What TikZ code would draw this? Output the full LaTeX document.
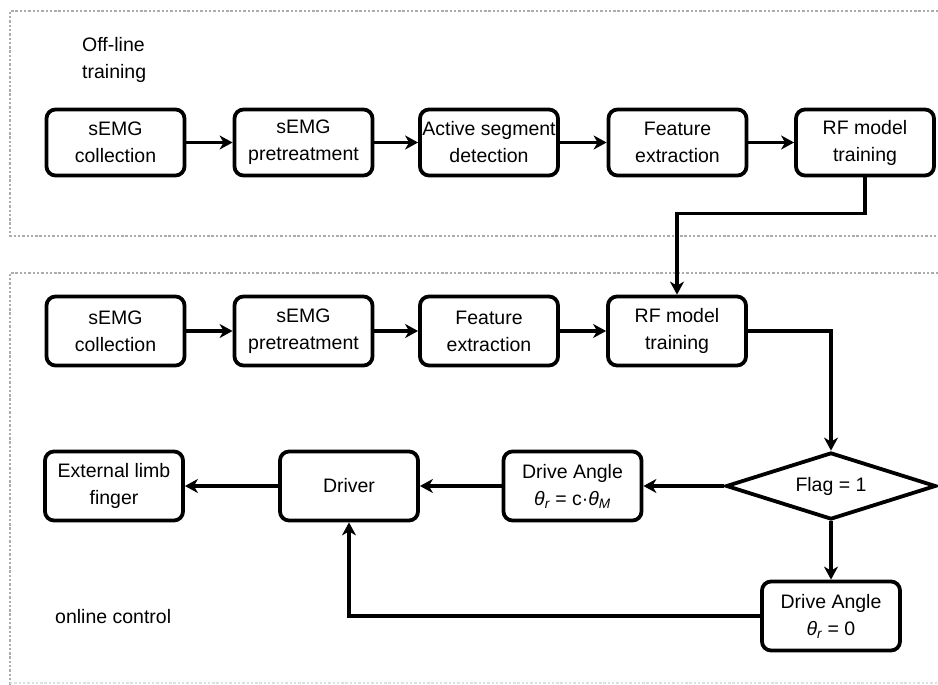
\documentclass[tikz,border=0pt]{standalone}
\usepackage{fontspec}
\setmainfont{Liberation Sans}
\usetikzlibrary{arrows.meta,shapes.geometric}
\newcommand{\thr}{{\itshape θ}\textsubscript{\itshape r}}
\newcommand{\thM}{{\itshape θ}\textsubscript{\itshape M}}
\begin{document}
\begin{tikzpicture}[x=1pt,y=-1pt,
  font=\fontsize{19.5pt}{27pt}\selectfont,
  blk/.style={draw, line width=3.8pt, rounded corners=9pt, minimum width=138pt, minimum height=66pt, align=center, inner sep=1pt},
  dec/.style={draw, line width=3.8pt, diamond, aspect=3, minimum width=210pt, minimum height=67pt, inner sep=0pt},
  conn/.style={line width=3.6pt, -{Stealth[length=13pt,width=14pt,inset=4pt]}},
  frame/.style={gray!65, line width=1.3pt, dash pattern=on 2.4pt off 1.9pt},
  lbl/.style={align=left, anchor=west, inner sep=0pt}]
\useasboundingbox (0,0) rectangle (938,685);
% frames
\draw[frame] (938,11) -- (10,11) -- (10,236) -- (938,236);
\draw[frame] (938,273) -- (10,273) -- (10,685);
\draw[frame, gray!25] (10,683) -- (938,683);
% labels
\node[lbl] (offl) at (82,60) {Off-line\\training};
\node[lbl] (onl) at (55,617) {online control};
% row 1
\node[blk] (a1) at (115.5,142.5) {sEMG\\collection};
\node[blk] (a2) at (303.5,142.5) {sEMG\\pretreatment};
\node[blk] (a3) at (489,142.5) {Active segment\\detection};
\node[blk] (a4) at (677.5,142.5) {Feature\\extraction};
\node[blk] (a5) at (865,142.5) {RF model\\training};
% row 2
\node[blk, minimum height=69pt] (b1) at (115.5,331) {sEMG\\collection};
\node[blk, minimum height=69pt] (b2) at (303.5,331) {sEMG\\pretreatment};
\node[blk, minimum height=69pt] (b3) at (489,331) {Feature\\extraction};
\node[blk, minimum height=69pt] (b4) at (677,331) {RF model\\training};
% row 3
\node[dec] (flag) at (831,486) {Flag = 1};
\node[blk, minimum height=69pt] (da1) at (572.5,486) {Drive Angle\\\thr{} = c·\thM};
\node[blk, minimum height=69pt] (drv) at (349,486) {Driver};
\node[blk, minimum height=69pt] (ext) at (114,486) {External limb\\finger};
\node[blk, minimum height=69pt] (da2) at (831,616) {Drive Angle\\\thr{} = 0};
% connectors
\draw[conn] (a1) -- (a2);
\draw[conn] (a2) -- (a3);
\draw[conn] (a3) -- (a4);
\draw[conn] (a4) -- (a5);
\draw[conn] (a5.south) -- ++(0,36) -| (b4.north);
\draw[conn] (b1) -- (b2);
\draw[conn] (b2) -- (b3);
\draw[conn] (b3) -- (b4);
\draw[conn] (b4.east) -| (flag.north);
\draw[conn] (flag.west) -- (da1.east);
\draw[conn] (da1) -- (drv);
\draw[conn] (drv) -- (ext);
\draw[conn] (flag.south) -- (da2.north);
\draw[conn] (da2.west) -| (drv.south);
\end{tikzpicture}
\end{document}
